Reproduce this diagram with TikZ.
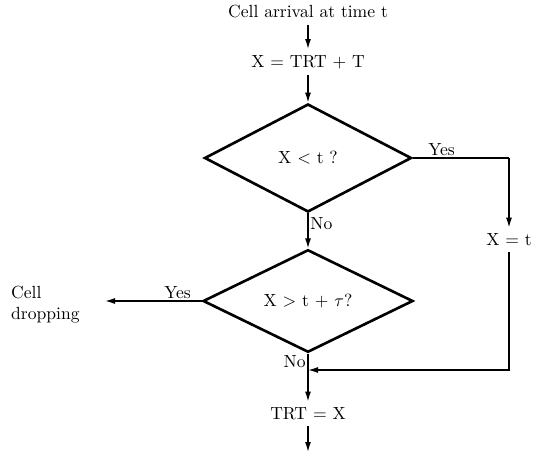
\documentclass[tikz,border=0pt]{standalone}
\usetikzlibrary{arrows.meta,positioning,shapes.geometric}

\begin{document}
\begin{tikzpicture}[font=\normalsize,
  dec/.style={draw,diamond,line width=1.5pt,inner sep=0pt},
  arr/.style={line width=0.8pt,-{Latex[length=2mm,width=1.2mm]}},
  lin/.style={line width=0.8pt}]
\useasboundingbox (0,0) rectangle (10.66,-9.16);
\node (start) at (6.16,-0.24) {Cell arrival at time t};
\node (calc) at (6.16,-1.24) {X = TRT + T};
\node[dec,minimum width=4.14cm,minimum height=2.16cm] (d1) at (6.16,-3.16) {X < t ?};
\node[dec,minimum width=4.2cm,minimum height=2.0cm] (d2) at (6.16,-6.02) {X > t + $\tau$?};
\node (set) at (10.18,-4.8) {X = t};
\node (upd) at (6.16,-8.28) {TRT = X};
\node[align=left,anchor=west] (drop) at (0.1,-6.1) {Cell\\dropping};
\coordinate (corner) at (10.18,-3.16);
\coordinate (join) at (6.16,-7.4);
\coordinate (stop) at (6.16,-9.04);
\coordinate (dropend) at (2.1,-6.02);
\draw[arr] (start) -- (calc);
\draw[arr] (calc) -- (d1.north);
\draw[arr] (d1.south) -- node[right,pos=0.3,inner sep=1pt] {No} (d2.north);
\draw[lin] (d1.east) -- node[above,pos=0.3,inner sep=1pt] {Yes} (corner);
\draw[arr] (corner) -- (set);
\draw[arr] (set.south) |- (join);
\draw[lin] (d2.south) -- node[left,pos=0.5,inner sep=1pt] {No} (join);
\draw[arr] (join) -- (upd);
\draw[arr] (upd) -- (stop);
\draw[arr] (d2.west) -- node[above,pos=0.25,inner sep=1pt] {Yes} (dropend);
\end{tikzpicture}
\end{document}
